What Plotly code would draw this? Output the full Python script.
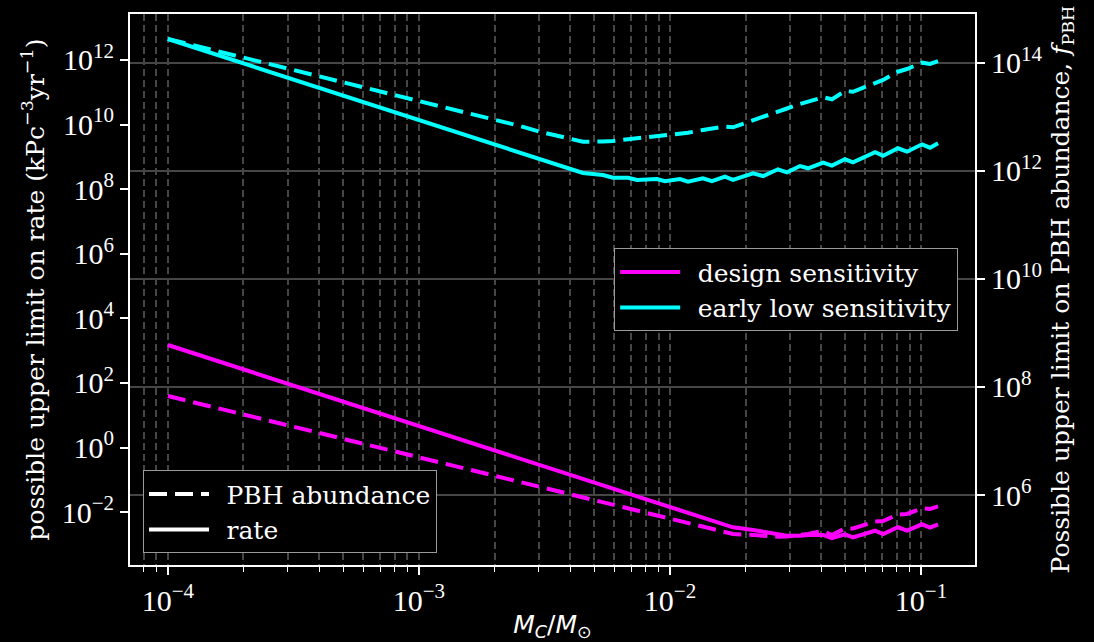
import plotly.graph_objects as go

# Compact-object mass grid, M_C / M_sun
mass = [1.00e-4, 3.16e-4, 1.00e-3, 2.00e-3, 2.52e-3, 3.03e-3, 4.00e-3, 4.50e-3,
        5.41e-3, 5.93e-3, 6.81e-3, 7.40e-3, 8.87e-3, 9.55e-3, 1.096e-2, 1.180e-2,
        1.352e-2, 1.469e-2, 1.656e-2, 1.782e-2, 2.143e-2, 2.350e-2, 2.692e-2,
        2.924e-2, 3.296e-2, 3.548e-2, 4.074e-2, 4.416e-2, 4.977e-2, 5.358e-2,
        6.561e-2, 7.063e-2, 8.091e-2, 8.790e-2, 0.1009, 0.1086, 0.1169]

# Upper limit on merger rate (kPc^-3 yr^-1)
rate_design = [1.50e3, 83.6, 4.66, 0.824, 0.457, 0.288, 0.144, 0.107, 6.76e-2,
               5.36e-2, 3.79e-2, 3.08e-2, 1.95e-2, 1.62e-2, 1.15e-2, 9.55e-3,
               6.79e-3, 5.52e-3, 4.08e-3, 3.40e-3, 2.81e-3, 2.49e-3, 2.04e-3,
               1.87e-3, 1.87e-3, 1.97e-3, 1.97e-3, 1.56e-3, 2.07e-3, 1.67e-3,
               2.67e-3, 2.11e-3, 3.41e-3, 2.67e-3, 4.22e-3, 3.31e-3, 4.22e-3]
rate_early = [4.47e12, 2.45e11, 1.35e10, 2.37e9, 1.31e9, 8.24e8, 4.13e8, 3.18e8,
              2.75e8, 2.27e8, 2.27e8, 1.93e8, 2.07e8, 1.76e8, 2.07e8, 1.71e8,
              2.17e8, 1.76e8, 2.44e8, 1.93e8, 3.10e8, 2.56e8, 4.13e8, 3.33e8,
              5.22e8, 4.44e8, 6.61e8, 5.35e8, 8.43e8, 6.81e8, 1.39e9, 1.09e9,
              1.85e9, 1.45e9, 2.45e9, 1.93e9, 2.64e9]

# Upper limit on PBH abundance f_PBH
fpbh_design = [6.79e7, 1.84e7, 4.99e6, 2.28e6, 1.75e6, 1.42e6, 1.04e6, 9.08e5,
               7.36e5, 6.64e5, 5.66e5, 5.16e5, 4.20e5, 3.86e5, 3.30e5, 3.03e5,
               2.60e5, 2.37e5, 2.07e5, 1.90e5, 1.82e5, 1.75e5, 1.69e5, 1.71e5,
               1.82e5, 1.90e5, 2.16e5, 1.82e5, 2.40e5, 2.40e5, 3.24e5, 3.30e5,
               4.36e5, 4.46e5, 5.68e5, 5.51e5, 6.14e5]
fpbh_early = [2.75e14, 7.35e13, 1.96e13, 8.89e12, 6.75e12, 5.28e12, 3.95e12,
              3.45e12, 3.48e12, 3.55e12, 3.83e12, 3.98e12, 4.31e12, 4.41e12,
              4.80e12, 5.05e12, 5.69e12, 6.01e12, 6.59e12, 6.38e12, 8.71e12,
              1.00e13, 1.24e13, 1.42e13, 1.72e13, 1.91e13, 2.29e13, 2.10e13,
              2.99e13, 2.90e13, 4.31e13, 4.79e13, 6.81e13, 7.64e13, 1.00e14,
              9.46e13, 1.07e14]

x_ticks = [1e-4, 1e-3, 1e-2, 1e-1]
x_ticktext = ["10<sup>−4</sup>", "10<sup>−3</sup>", "10<sup>−2</sup>", "10<sup>−1</sup>"]
rate_ticks = [1e-2, 1e0, 1e2, 1e4, 1e6, 1e8, 1e10, 1e12]
rate_ticktext = ["10<sup>−2</sup>", "10<sup>0</sup>", "10<sup>2</sup>", "10<sup>4</sup>",
                 "10<sup>6</sup>", "10<sup>8</sup>", "10<sup>10</sup>", "10<sup>12</sup>"]
fpbh_ticks = [1e6, 1e8, 1e10, 1e12, 1e14]
fpbh_ticktext = ["10<sup>6</sup>", "10<sup>8</sup>", "10<sup>10</sup>",
                 "10<sup>12</sup>", "10<sup>14</sup>"]

MAGENTA = "#ff00ff"
CYAN = "#00ffff"
GRID = "#464646"
SERIF = "DejaVu Serif"
TICKFONT = dict(family="Liberation Serif", size=30, color="white")
DASH = "18px,8px"
GAP = "\u2002"  # small gap between key line and label

minor_x = [k * 10.0 ** d for d in range(-5, 0) for k in range(2, 10)]

fig = go.Figure()

for y, color, dash, axis in [
    (rate_design, MAGENTA, "solid", "y"),
    (fpbh_design, MAGENTA, DASH, "y2"),
    (rate_early, CYAN, "solid", "y"),
    (fpbh_early, CYAN, DASH, "y2"),
]:
    fig.add_trace(go.Scatter(x=mass, y=y, yaxis=axis, mode="lines",
                             line=dict(color=color, width=4, dash=dash),
                             showlegend=False, hoverinfo="skip"))

# Colour key
for name, color in [("design sensitivity", MAGENTA), ("early low sensitivity", CYAN)]:
    fig.add_trace(go.Scatter(x=[None], y=[None], mode="lines", name=GAP + name,
                             line=dict(color=color, width=4), legend="legend"))
# Line-style key
for name, dash in [("PBH abundance", DASH), ("rate", "solid")]:
    fig.add_trace(go.Scatter(x=[None], y=[None], mode="lines", name=GAP + name,
                             line=dict(color="white", width=4, dash=dash),
                             legend="legend2"))

legend_style = dict(bgcolor="black", bordercolor="#9a9a9a", borderwidth=1,
                    font=dict(family=SERIF, size=25, color="white"),
                    xanchor="left", yanchor="top", tracegroupgap=0,
                    itemwidth=60)

fig.update_layout(
    width=1094, height=642,
    paper_bgcolor="black", plot_bgcolor="black",
    margin=dict(l=130, r=119, t=14, b=77, autoexpand=False),
    xaxis=dict(
        type="log", range=[-4.151, -0.785], automargin=False,
        tickvals=x_ticks, ticktext=x_ticktext, tickfont=TICKFONT,
        ticks="outside", ticklen=8, tickwidth=1.5, tickcolor="white",
        showgrid=True, gridcolor=GRID, gridwidth=1.5, griddash="7px,4px",
        minor=dict(tickvals=minor_x, ticks="outside", ticklen=5, tickwidth=1.2,
                   tickcolor="white", showgrid=True, gridcolor=GRID,
                   gridwidth=1.5, griddash="7px,4px"),
        showline=True, linecolor="white", linewidth=2, mirror=True,
        zeroline=False,
        title=dict(text="<i>M<sub>C</sub></i>/<i>M</i><sub>⊙</sub>",
                   font=dict(family="DejaVu Sans", size=25, color="white"),
                   standoff=7),
    ),
    yaxis=dict(
        type="log", range=[-3.635, 13.424], automargin=False,
        tickvals=rate_ticks, ticktext=rate_ticktext, tickfont=TICKFONT,
        ticks="outside", ticklen=8, tickwidth=1.5, tickcolor="white",
        showgrid=False, zeroline=False,
        showline=True, linecolor="white", linewidth=2,
        title=dict(text="possible upper limit on rate (kPc<sup>−3</sup>yr<sup>−1</sup>)",
                   font=dict(family=SERIF, size=25, color="white"), standoff=10),
    ),
    yaxis2=dict(
        type="log", range=[4.705, 14.901], overlaying="y", side="right",
        automargin=False,
        tickvals=fpbh_ticks, ticktext=fpbh_ticktext, tickfont=TICKFONT,
        ticks="outside", ticklen=8, tickwidth=1.5, tickcolor="white",
        showgrid=True, gridcolor=GRID, gridwidth=1.5, zeroline=False,
        showline=True, linecolor="white", linewidth=2,
        title=dict(text="Possible upper limit on PBH abundance, <i>f</i><sub>PBH</sub>",
                   font=dict(family=SERIF, size=25, color="white"), standoff=10),
    ),
    legend=dict(x=0.573, y=0.575, **legend_style),
    legend2=dict(x=0.0154, y=0.172, **legend_style),
)

fig.write_html("out.html")
